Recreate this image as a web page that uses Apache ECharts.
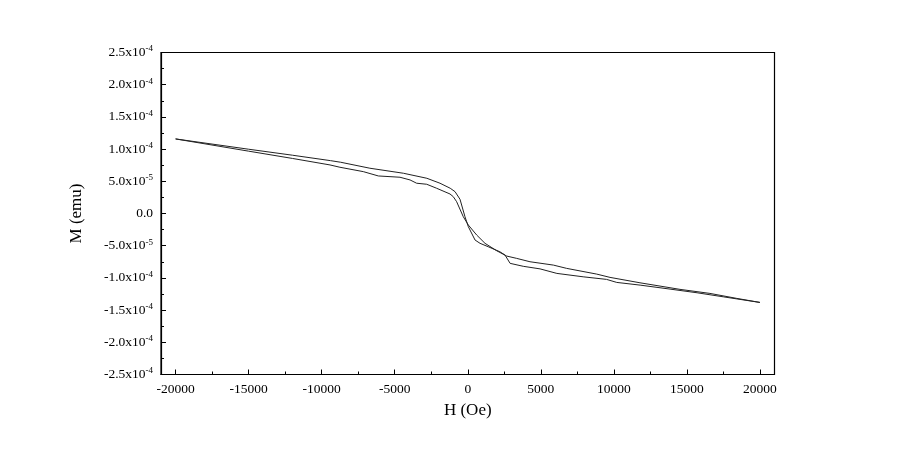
<!DOCTYPE html>
<html>
<head>
<meta charset="utf-8">
<script src="https://cdn.jsdelivr.net/npm/echarts@6/dist/echarts.min.js"></script>
<style>html,body{margin:0;padding:0;background:#fff}#c{width:900px;height:450px}</style>
</head>
<body>
<div id="c"></div>
<script>
// Branch 1 (upper on the negative side)
const H1 = [-20000, -15000, -12000, -9400, -8700, -6700, -4400, -2800, -1900, -1200, -870, -530, -190, 40, 500, 840, 1400, 2200, 2550, 2900, 3800, 4950, 6100, 7900, 9500, 10200, 11800, 13850, 15700, 17500, 20000];
const M1 = [11.58e-5, 9.98e-5, 9.05e-5, 8.21e-5, 7.96e-5, 7.03e-5, 6.25e-5, 5.47e-5, 4.70e-5, 3.92e-5, 3.39e-5, 2.21e-5, -0.50e-5, -2.05e-5, -4.12e-5, -4.63e-5, -5.16e-5, -5.94e-5, -6.45e-5, -7.74e-5, -8.20e-5, -8.60e-5, -9.30e-5, -9.83e-5, -10.23e-5, -10.70e-5, -11.12e-5, -11.74e-5, -12.31e-5, -12.94e-5, -13.81e-5];
// Branch 2 (lower on the negative side)
const H2 = [-20000, -15000, -12000, -9430, -8750, -7150, -6120, -4640, -3950, -3500, -2810, -2130, -1215, -990, -760, -650, -305, 40, 610, 1180, 1980, 2670, 3350, 4260, 5860, 6770, 8830, 9740, 11790, 14530, 16580, 18410, 20000];
const M2 = [11.58e-5, 9.68e-5, 8.55e-5, 7.54e-5, 7.18e-5, 6.50e-5, 5.83e-5, 5.63e-5, 5.21e-5, 4.70e-5, 4.54e-5, 3.92e-5, 3.03e-5, 2.61e-5, 1.83e-5, 1.59e-5, -0.50e-5, -1.79e-5, -3.34e-5, -4.63e-5, -5.78e-5, -6.61e-5, -6.97e-5, -7.49e-5, -8.01e-5, -8.52e-5, -9.41e-5, -9.92e-5, -10.76e-5, -11.78e-5, -12.41e-5, -13.18e-5, -13.81e-5];

const xMajorTicks = [-20000, -15000, -10000, -5000, 0, 5000, 10000, 15000, 20000];
const xMinorTicks = [-17500, -12500, -7500, -2500, 2500, 7500, 12500, 17500];
const yMantissa = ['-2.5', '-2.0', '-1.5', '-1.0', '-5.0', '0.0', '5.0', '1.0', '1.5', '2.0', '2.5'];
const yExponent = ['-4', '-4', '-4', '-4', '-5', '', '-5', '-4', '-4', '-4', '-4'];
const yMin = -2.5e-4, yMax = 2.5e-4, yStep = 5e-5;

const font = 'Liberation Serif';
const pair = (hs, ms) => hs.map((h, i) => [h, ms[i]]);

const chart = echarts.init(document.getElementById('c'));
chart.setOption({
  animation: false,
  backgroundColor: '#fff',
  grid: { left: 161, right: 125.5, top: 52.5, bottom: 75.5, show: true, borderColor: '#000', borderWidth: 1.2 },
  xAxis: [{
    type: 'value', min: -21000, max: 21000,
    name: 'H (Oe)', nameLocation: 'middle', nameGap: 28,
    nameTextStyle: { fontFamily: font, fontSize: 17, color: '#000' },
    axisLine: { show: true, onZero: false, lineStyle: { color: '#000', width: 1.2 } },
    axisTick: { show: true, inside: true, length: 5, customValues: xMajorTicks, lineStyle: { color: '#000', width: 1 } },
    axisLabel: { customValues: xMajorTicks, fontFamily: font, fontSize: 13.5, color: '#000', margin: 8,
      formatter: function (v) { return String(v); } },
    splitLine: { show: false }
  }, {
    type: 'value', min: -21000, max: 21000, position: 'bottom', gridIndex: 0,
    axisLine: { show: false, onZero: false },
    axisTick: { show: true, inside: true, length: 3, customValues: xMinorTicks, lineStyle: { color: '#000', width: 1 } },
    axisLabel: { show: false },
    splitLine: { show: false }
  }],
  yAxis: {
    type: 'value', min: yMin, max: yMax, interval: yStep,
    name: 'M (emu)', nameLocation: 'middle', nameGap: 76, nameRotate: 90,
    nameTextStyle: { fontFamily: font, fontSize: 17, color: '#000' },
    axisLine: { show: true, onZero: false, lineStyle: { color: '#000', width: 1.2 } },
    axisTick: { show: true, inside: true, length: 5, lineStyle: { color: '#000', width: 1 } },
    minorTick: { show: true, splitNumber: 2, length: 3, lineStyle: { color: '#000', width: 1 } },
    splitLine: { show: false },
    axisLabel: {
      margin: 8,
      formatter: function (v) {
        const i = Math.round((v - yMin) / yStep);
        const m = yMantissa[i];
        const e = yExponent[i];
        return e ? '{m|' + m + 'x10}{s|' + e + '}' : '{m|' + m + '}';
      },
      rich: {
        m: { fontFamily: font, fontSize: 13.5, color: '#000' },
        s: { fontFamily: font, fontSize: 9, color: '#000', verticalAlign: 'top', padding: [0, 0, 7, 0] }
      }
    }
  },
  series: [{
    type: 'line', xAxisIndex: 0, data: pair(H1, M1), showSymbol: false, symbol: 'none',
    lineStyle: { color: '#222', width: 1 }
  }, {
    type: 'line', xAxisIndex: 0, data: pair(H2, M2), showSymbol: false, symbol: 'none',
    lineStyle: { color: '#222', width: 1 }
  }]
});
</script>
</body>
</html>
